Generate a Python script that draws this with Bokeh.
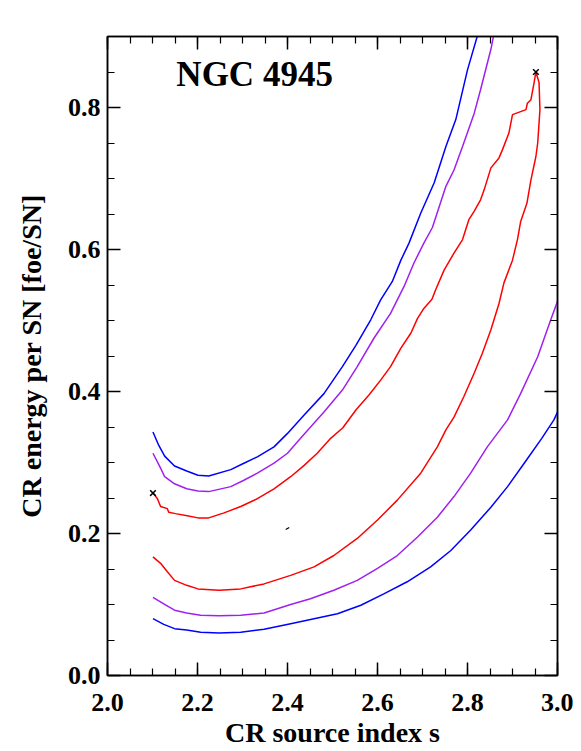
from bokeh.plotting import figure
from bokeh.models import LinearAxis, SingleIntervalTicker, PrintfTickFormatter, Range1d
from bokeh.core.properties import value
from bokeh.embed import file_html
from bokeh.resources import INLINE

# ---- data ----
blue_upper_s = [2.101, 2.114, 2.127, 2.149, 2.176, 2.201, 2.225, 2.274, 2.303, 2.333, 2.370, 2.400,
                2.437, 2.481, 2.522, 2.552, 2.585, 2.607, 2.633, 2.652, 2.670, 2.696, 2.726, 2.752,
                2.774, 2.800, 2.822]
blue_upper_E = [0.343, 0.324, 0.309, 0.295, 0.288, 0.282, 0.281, 0.290, 0.299, 0.308, 0.322, 0.341,
                0.367, 0.397, 0.435, 0.465, 0.501, 0.529, 0.555, 0.585, 0.609, 0.651, 0.694, 0.745,
                0.783, 0.853, 0.901]

purple_upper_s = [2.101, 2.118, 2.127, 2.149, 2.176, 2.201, 2.225, 2.274, 2.303, 2.333, 2.370, 2.400,
                  2.429, 2.481, 2.522, 2.555, 2.592, 2.629, 2.659, 2.681, 2.703, 2.722, 2.752, 2.770,
                  2.789, 2.815, 2.829, 2.852, 2.858]
purple_upper_E = [0.313, 0.292, 0.280, 0.270, 0.263, 0.260, 0.259, 0.266, 0.275, 0.285, 0.299, 0.313,
                  0.334, 0.371, 0.402, 0.435, 0.475, 0.510, 0.548, 0.581, 0.609, 0.631, 0.689, 0.712,
                  0.745, 0.792, 0.825, 0.882, 0.901]

red_s = [2.101, 2.111, 2.118, 2.133, 2.136, 2.151, 2.177, 2.201, 2.225, 2.259, 2.296, 2.333, 2.370,
         2.407, 2.437, 2.466, 2.496, 2.523, 2.552, 2.581, 2.607, 2.629, 2.652, 2.674, 2.689, 2.703,
         2.721, 2.729, 2.748, 2.770, 2.789, 2.803, 2.815, 2.829, 2.837, 2.852, 2.870, 2.878, 2.892,
         2.900, 2.930, 2.933, 2.941, 2.948, 2.952,
         2.959, 2.961, 2.956, 2.952, 2.941, 2.932, 2.918, 2.911, 2.900, 2.881, 2.870, 2.852, 2.833,
         2.815, 2.792, 2.770, 2.752, 2.733, 2.696, 2.644, 2.600, 2.555, 2.503, 2.459, 2.407, 2.348,
         2.296, 2.248, 2.201, 2.176, 2.149, 2.133, 2.118, 2.101]
red_E = [0.257, 0.249, 0.238, 0.235, 0.230, 0.228, 0.225, 0.222, 0.222, 0.229, 0.238, 0.249, 0.263,
         0.280, 0.296, 0.313, 0.334, 0.349, 0.374, 0.395, 0.416, 0.435, 0.461, 0.482, 0.503, 0.517,
         0.530, 0.543, 0.571, 0.595, 0.614, 0.642, 0.654, 0.670, 0.684, 0.715, 0.729, 0.741, 0.764,
         0.790, 0.797, 0.806, 0.811, 0.835, 0.850,
         0.835, 0.797, 0.750, 0.731, 0.698, 0.665, 0.639, 0.614, 0.585, 0.553, 0.524, 0.487, 0.454,
         0.426, 0.393, 0.364, 0.346, 0.322, 0.285, 0.247, 0.219, 0.193, 0.169, 0.153, 0.141, 0.129,
         0.122, 0.120, 0.122, 0.127, 0.134, 0.146, 0.158, 0.167]

purple_lower_s = [2.101, 2.125, 2.149, 2.176, 2.207, 2.248, 2.296, 2.348, 2.407, 2.451, 2.503, 2.555,
                  2.600, 2.644, 2.689, 2.733, 2.770, 2.807, 2.844, 2.889, 2.918, 2.956, 2.985, 3.000]
purple_lower_E = [0.110, 0.101, 0.092, 0.088, 0.085, 0.084, 0.085, 0.088, 0.100, 0.108, 0.120, 0.134,
                  0.151, 0.169, 0.195, 0.223, 0.252, 0.285, 0.322, 0.360, 0.397, 0.449, 0.501, 0.527]

blue_lower_s = [2.101, 2.125, 2.149, 2.176, 2.207, 2.248, 2.296, 2.348, 2.407, 2.459, 2.511, 2.563,
                2.614, 2.666, 2.718, 2.763, 2.807, 2.852, 2.889, 2.926, 2.965, 2.992, 3.000]
blue_lower_E = [0.080, 0.072, 0.066, 0.064, 0.061, 0.060, 0.061, 0.065, 0.073, 0.080, 0.087, 0.099,
                0.115, 0.132, 0.153, 0.176, 0.205, 0.237, 0.266, 0.299, 0.334, 0.360, 0.371]

cross_s = [2.101, 2.952]
cross_E = [0.257, 0.850]
dot_s = [2.400]
dot_E = [0.207]

title_s = [2.153]
title_E = [0.846]
title_txt = ["NGC 4945"]

x_range = (2.0, 3.0)
y_range = (0.0, 0.9)

FONT = "Liberation Serif"

p = figure(frame_width=450, frame_height=639, output_backend="svg", toolbar_location=None,
           x_range=Range1d(*x_range), y_range=Range1d(*y_range),
           min_border_left=107, min_border_right=16, min_border_top=36, min_border_bottom=70)
p.background_fill_color = "white"
p.border_fill_color = "white"
p.grid.visible = False
p.outline_line_color = "black"
p.outline_line_width = 1.5

BLUE = "#0000ff"
PURPLE = "#a020f0"
RED = "#ff0000"
LW = 1.5

p.line(blue_upper_s, blue_upper_E, color=BLUE, line_width=LW)
p.line(blue_lower_s, blue_lower_E, color=BLUE, line_width=LW)
p.line(purple_upper_s, purple_upper_E, color=PURPLE, line_width=LW)
p.line(purple_lower_s, purple_lower_E, color=PURPLE, line_width=LW)
p.line(red_s, red_E, color=RED, line_width=LW)
p.scatter(cross_s, cross_E, marker="x", size=8, line_color="black", line_width=1.5)
p.scatter(dot_s, dot_E, marker="dash", size=4, angle=0.5, line_color="black", line_width=1.2)

p.text(title_s, title_E, text=title_txt, text_font=value(FONT), text_font_style="bold",
       text_font_size="35px", text_align="left", text_baseline="alphabetic", text_color="black")


def style_axis(ax, labels=True):
    ax.ticker = SingleIntervalTicker(interval=0.2, num_minor_ticks=4)
    ax.formatter = PrintfTickFormatter(format="%.1f")
    ax.axis_line_color = "black"
    ax.axis_line_width = 1.5
    ax.major_tick_in = 13
    ax.major_tick_out = 0
    ax.minor_tick_in = 7
    ax.minor_tick_out = 0
    ax.major_tick_line_width = 1.5
    ax.minor_tick_line_width = 1.2
    ax.major_tick_line_color = "black"
    ax.minor_tick_line_color = "black"
    if labels:
        ax.major_label_text_font = FONT
        ax.major_label_text_font_style = "bold"
        ax.major_label_text_font_size = "26px"
        ax.major_label_text_color = "black"
        ax.axis_label_text_font = FONT
        ax.axis_label_text_font_style = "bold"
        ax.axis_label_text_font_size = "28px"
        ax.axis_label_text_color = "black"
    else:
        ax.major_label_text_font_size = "0px"
        ax.major_label_text_color = None
        ax.major_label_standoff = 0


style_axis(p.xaxis[0])
style_axis(p.yaxis[0])
p.xaxis[0].axis_label = "CR source index s"
p.yaxis[0].axis_label = "CR energy per SN [foe/SN]"
p.xaxis[0].major_label_standoff = 18
p.xaxis[0].axis_label_standoff = 3
p.yaxis[0].major_label_standoff = 7
p.yaxis[0].axis_label_standoff = 18

top = LinearAxis()
style_axis(top, labels=False)
p.add_layout(top, "above")
right = LinearAxis()
style_axis(right, labels=False)
p.add_layout(right, "right")

open("out.html", "w").write(file_html(p, INLINE))
